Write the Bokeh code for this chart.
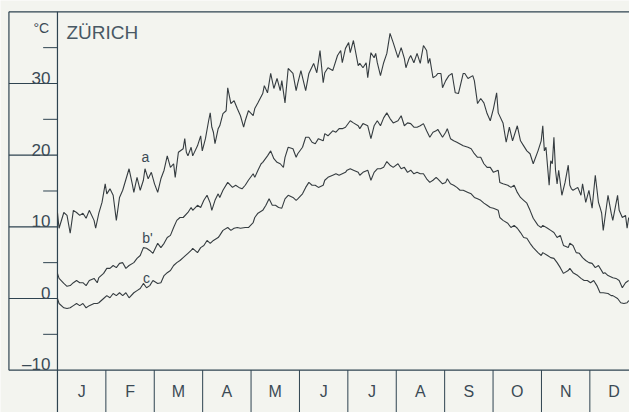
from bokeh.plotting import figure
from bokeh.models import Range1d
from bokeh.core.properties import value
from bokeh.embed import file_html
from bokeh.resources import INLINE

# ---- data (x = day of year, y = degrees C) ----
a_day = [0, 1, 4, 6, 8, 10, 12, 14, 16, 18, 20, 23, 24, 26, 28, 30, 31, 33, 35, 37, 39, 41, 45, 47, 48,
         50, 52, 54, 55, 57, 59, 61, 63, 65, 67, 69, 71, 73, 74, 76, 79, 80, 81, 82, 84, 85, 88, 90, 91,
         93, 95, 96, 97, 98, 99, 101, 102, 104, 106, 107, 109, 111, 113, 115, 117, 118, 120, 123, 124,
         126, 129, 130, 132, 134, 136, 138, 140, 141, 143, 145, 148, 150, 151, 153, 156, 158, 161, 163,
         165, 167, 168, 170, 173, 176, 178, 179, 181, 183, 184, 186, 189, 190, 192, 194, 195, 197, 199,
         200, 201, 203, 205, 207, 209, 211, 214, 216, 218, 219, 221, 222, 224, 226, 228, 230, 232, 233,
         234, 236, 238, 239, 241, 242, 244, 246, 248, 249, 250, 252, 255, 256, 258, 261, 262, 264, 266,
         268, 270, 272, 274, 276, 277, 280, 282, 284, 286, 288, 289, 291, 293, 295, 297, 299, 302, 304,
         305, 306, 307, 309, 310, 311, 312, 313, 314, 315, 317, 319, 321, 322, 323, 324, 327, 329, 330,
         332, 334, 336, 338, 340, 341, 342, 343, 346, 348, 349, 352, 353, 355, 357, 358, 359]
a_temp = [12.0, 9.8, 12.0, 11.6, 9.1, 12.3, 12.0, 11.6, 11.9, 11.2, 12.3, 10.9, 9.8, 11.9, 13.4, 16.0,
          14.6, 15.3, 14.4, 10.9, 14.1, 15.1, 18.1, 16.0, 14.8, 16.9, 15.1, 16.5, 18.1, 16.7, 17.6, 16.0,
          14.8, 16.7, 17.9, 19.9, 18.3, 18.8, 16.9, 20.4, 20.9, 22.3, 20.4, 19.9, 21.1, 19.9, 21.3, 22.7,
          20.6, 22.3, 24.8, 25.9, 23.9, 23.2, 21.6, 23.7, 24.1, 25.8, 26.2, 29.4, 27.2, 27.6, 26.5, 25.5,
          23.9, 24.8, 26.2, 25.5, 26.5, 27.3, 28.6, 29.7, 28.7, 31.4, 29.3, 30.7, 29.0, 30.4, 27.3, 32.1,
          31.4, 29.0, 30.0, 31.8, 29.0, 31.4, 32.8, 31.5, 34.6, 30.1, 31.5, 32.2, 31.8, 33.9, 34.6, 32.9,
          34.9, 35.7, 34.3, 36.0, 32.5, 32.8, 32.2, 32.9, 30.8, 34.3, 33.6, 34.2, 32.9, 31.1, 32.9, 34.2,
          37.0, 35.7, 33.6, 35.0, 33.5, 32.2, 33.5, 33.9, 32.9, 34.2, 32.8, 35.3, 34.6, 32.8, 33.5, 30.8,
          31.1, 31.4, 31.4, 29.4, 30.4, 31.1, 31.4, 30.0, 28.7, 28.6, 31.4, 31.4, 30.7, 31.1, 30.4, 27.2,
          27.9, 27.3, 25.8, 24.8, 26.5, 28.7, 25.9, 24.5, 21.8, 23.9, 22.0, 23.4, 24.1, 22.0, 21.3, 20.6,
          20.2, 18.8, 20.6, 22.0, 24.1, 20.6, 21.1, 15.8, 19.2, 18.8, 22.5, 17.9, 16.0, 17.9, 14.4, 16.2,
          18.6, 15.8, 15.3, 15.1, 15.5, 14.4, 16.0, 13.4, 15.1, 12.6, 17.2, 13.4, 12.7, 11.9, 9.5, 14.4,
          11.9, 10.9, 14.4, 12.3, 11.3, 11.6, 9.8, 11.3]

b_day = [0, 1, 4, 6, 8, 10, 12, 14, 16, 18, 20, 23, 25, 26, 29, 31, 33, 35, 37, 39, 41, 43, 45, 48, 50,
         52, 54, 56, 58, 60, 63, 65, 67, 69, 71, 73, 75, 77, 79, 82, 84, 85, 88, 90, 92, 94, 96, 97, 99,
         101, 102, 104, 107, 110, 112, 114, 116, 118, 120, 123, 124, 126, 128, 129, 132, 134, 136, 138,
         140, 142, 143, 145, 148, 150, 151, 154, 156, 158, 160, 162, 164, 167, 168, 170, 173, 175, 177,
         179, 181, 184, 186, 189, 190, 192, 195, 197, 199, 201, 203, 205, 207, 209, 211, 214, 216, 218,
         220, 222, 224, 226, 228, 230, 232, 234, 236, 238, 239, 242, 244, 245, 247, 249, 251, 255, 258,
         260, 262, 264, 266, 268, 270, 272, 274, 277, 278, 280, 283, 285, 287, 289, 291, 293, 295, 297,
         299, 302, 304, 305, 308, 310, 312, 314, 316, 318, 321, 322, 324, 326, 328, 330, 332, 334, 336,
         338, 340, 343, 344, 346, 349, 351, 353, 355, 357, 359]
b_temp = [3.5, 2.8, 2.1, 1.7, 1.8, 2.2, 2.5, 2.2, 2.2, 1.8, 2.5, 2.8, 2.2, 2.9, 3.5, 4.2, 4.2, 4.6, 4.3,
          4.9, 5.0, 4.2, 4.6, 5.0, 5.6, 6.0, 7.1, 7.0, 6.7, 6.3, 7.7, 7.1, 7.7, 8.5, 8.8, 9.9, 10.9, 11.3,
          11.3, 12.0, 12.7, 12.3, 13.0, 12.7, 13.7, 14.4, 13.3, 12.3, 13.7, 14.6, 14.1, 15.1, 16.2, 15.5,
          15.8, 15.5, 15.3, 15.8, 16.5, 17.4, 16.9, 17.9, 18.8, 19.0, 19.9, 20.6, 19.5, 19.0, 18.8, 18.3,
          19.7, 21.1, 20.9, 19.7, 20.2, 21.1, 22.5, 22.5, 21.8, 21.6, 22.3, 22.0, 23.0, 22.7, 23.4, 23.2,
          23.7, 23.7, 23.9, 24.8, 24.5, 24.1, 23.7, 24.4, 24.1, 22.3, 24.1, 24.8, 24.1, 25.2, 25.9, 25.1,
          24.5, 24.8, 25.5, 24.1, 24.5, 24.4, 23.9, 23.9, 24.1, 24.4, 23.4, 22.5, 23.2, 23.4, 23.6, 22.5,
          23.2, 23.7, 22.3, 22.0, 21.8, 21.3, 21.1, 20.9, 20.2, 19.7, 19.7, 18.8, 18.3, 18.3, 17.6, 17.9,
          16.2, 16.0, 15.8, 15.5, 15.8, 14.8, 14.1, 13.7, 13.3, 12.3, 11.2, 10.2, 9.9, 10.2, 9.8, 9.5, 9.2,
          8.5, 8.8, 7.4, 7.1, 7.7, 7.4, 6.4, 6.3, 5.7, 5.3, 5.0, 4.9, 4.3, 4.6, 3.5, 3.6, 3.2, 2.9, 2.8,
          2.5, 1.5, 2.2, 2.5]

c_day = [0, 1, 4, 6, 8, 10, 12, 14, 16, 18, 20, 23, 25, 26, 29, 31, 33, 35, 37, 39, 41, 43, 45, 48, 50,
         52, 54, 56, 58, 60, 63, 65, 67, 69, 71, 73, 75, 77, 79, 82, 84, 85, 88, 90, 92, 94, 96, 98, 101,
         102, 104, 107, 109, 111, 113, 115, 118, 120, 123, 124, 126, 129, 131, 133, 135, 137, 139, 141,
         143, 145, 148, 150, 151, 154, 156, 158, 160, 162, 164, 167, 168, 170, 173, 175, 177, 179, 181,
         182, 184, 186, 189, 190, 192, 195, 197, 199, 201, 203, 205, 207, 209, 211, 214, 216, 218, 220,
         222, 224, 226, 228, 230, 232, 234, 236, 238, 239, 242, 244, 245, 247, 249, 251, 253, 255, 258,
         260, 262, 264, 266, 268, 270, 272, 274, 277, 278, 280, 283, 285, 287, 289, 291, 293, 295, 297,
         299, 302, 304, 305, 308, 310, 312, 314, 316, 318, 321, 322, 324, 327, 329, 331, 333, 335, 337,
         339, 341, 343, 346, 348, 349, 352, 354, 356, 358, 359]
c_temp = [0.0, -0.7, -1.3, -1.4, -1.3, -1.0, -0.7, -1.0, -0.7, -1.3, -1.0, -0.7, -0.7, -0.6, 0.0, 0.4,
          0.1, 0.7, 0.4, 0.8, 0.4, 0.8, 0.1, 0.8, 1.1, 1.4, 2.1, 1.5, 1.8, 2.5, 2.1, 2.2, 3.2, 3.6, 3.9,
          4.6, 5.0, 5.3, 5.7, 6.3, 6.7, 7.0, 6.4, 7.1, 7.4, 8.1, 7.7, 8.1, 8.5, 8.8, 9.5, 9.9, 9.5, 9.8,
          9.9, 9.8, 9.9, 9.9, 10.6, 11.3, 11.9, 12.3, 13.0, 13.9, 13.0, 13.0, 12.7, 12.6, 13.9, 14.4, 14.1,
          13.7, 13.9, 14.6, 15.5, 16.2, 15.8, 15.8, 15.5, 15.8, 16.5, 16.9, 17.2, 17.4, 17.2, 17.4, 17.6,
          17.9, 18.1, 17.9, 17.6, 17.2, 17.6, 17.9, 16.5, 17.6, 18.1, 18.1, 18.3, 19.1, 18.6, 18.3, 18.8,
          18.1, 18.3, 17.6, 17.9, 17.4, 17.6, 17.4, 17.4, 16.7, 16.2, 16.5, 16.9, 16.7, 16.0, 16.2, 16.7,
          16.0, 15.8, 15.5, 15.1, 15.1, 14.8, 14.6, 14.1, 13.9, 13.7, 13.3, 13.0, 12.7, 12.6, 12.3, 11.3,
          10.9, 10.5, 9.9, 10.2, 9.8, 9.2, 8.5, 8.4, 7.7, 7.1, 6.4, 6.0, 6.4, 6.0, 5.7, 5.6, 5.0, 4.3, 3.5,
          3.9, 4.2, 3.6, 3.2, 2.8, 2.5, 2.5, 2.2, 2.5, 1.8, 0.8, 0.8, 0.7, 0.4, 0.4, 0.0, -0.6, -0.7, -0.6,
          -0.3]

curve_names = ["a", "b'", "c"]
curve_label_day = [55.3, 56.6, 55.9]
curve_label_temp = [19.8, 8.4, 2.9]

months = ["J", "F", "M", "A", "M", "J", "J", "A", "S", "O", "N", "D"]
year_days = 365
y_major = [30, 20, 10, 0, -10]
y_major_labels = ["30", "20", "10", "0", "\u201310"]
y_minor = [35, 25, 15, 5, -5]
y_top = 40
y_bottom = -10
title_text = "Z\u00dcRICH"
unit_text = "\u00b0C"

# ---- styling ----
BG = "#f3f4ef"
FRAME = "#2e4350"
CURVE = "#353c40"
TXT = "#3b4a55"
FONT = value("Liberation Sans")

x_lo, x_hi = -35.8, 359.5
y_lo, y_hi = -15.91, 41.58
panel_left = -30.5
far_right = 370
far_bottom = -20

p = figure(width=629, height=412, x_range=Range1d(x_lo, x_hi), y_range=Range1d(y_lo, y_hi),
           x_axis_type=None, y_axis_type=None, output_backend="svg", toolbar_location=None,
           min_border=0, outline_line_color=None, title=None,
           background_fill_color=BG, border_fill_color=BG)
p.grid.visible = False

# frame
p.segment(x0=[panel_left, panel_left], y0=[y_top, y_bottom], x1=[far_right, far_right], y1=[y_top, y_bottom],
          line_color=FRAME, line_width=1.2)
p.segment(x0=[panel_left], y0=[y_bottom], x1=[panel_left], y1=[y_top], line_color=FRAME, line_width=1.2)
p.segment(x0=[0], y0=[y_top], x1=[0], y1=[far_bottom], line_color=FRAME, line_width=1.2)

# left panel lines and minor dashes
major_inner = [v for v in y_major if y_bottom < v < y_top]
p.segment(x0=[panel_left] * len(major_inner), y0=major_inner, x1=[0] * len(major_inner), y1=major_inner,
          line_color=FRAME, line_width=1.2)
p.segment(x0=[-9.0] * len(y_minor), y0=y_minor, x1=[0] * len(y_minor), y1=y_minor,
          line_color=FRAME, line_width=1.0)

# month boxes
month_edges = [k * year_days / 12 for k in range(1, 13)]
p.segment(x0=month_edges, y0=[y_bottom] * 12, x1=month_edges, y1=[far_bottom] * 12,
          line_color=FRAME, line_width=1.0)
month_centers = [(k + 0.5) * year_days / 12 for k in range(12)]
p.text(x=month_centers, y=[-12.95] * 12, text=months, text_align="center", text_baseline="middle",
       text_font=FONT, text_font_size="16px", text_color=TXT)

# y tick labels
p.text(x=[-4.4] * len(y_major), y=[v + 0.75 for v in y_major], text=y_major_labels,
       text_align="right", text_baseline="alphabetic", text_font=FONT, text_font_size="17px",
       text_color=TXT)
p.text(x=[-5.2], y=[37.8], text=[unit_text], text_align="right", text_baseline="middle",
       text_font=FONT, text_font_size="14px", text_color=TXT)
p.text(x=[5.6], y=[37.1], text=[title_text], text_align="left", text_baseline="middle",
       text_font=FONT, text_font_size="19px", text_color="#485864")

# curves
for d, t in ((a_day, a_temp), (b_day, b_temp), (c_day, c_temp)):
    p.line(d, t, line_color=CURVE, line_width=1.1)

p.text(x=curve_label_day, y=curve_label_temp, text=curve_names, text_align="center",
       text_baseline="middle", text_font=FONT, text_font_size="14px", text_color=TXT)

open("out.html", "w").write(file_html(p, INLINE))
